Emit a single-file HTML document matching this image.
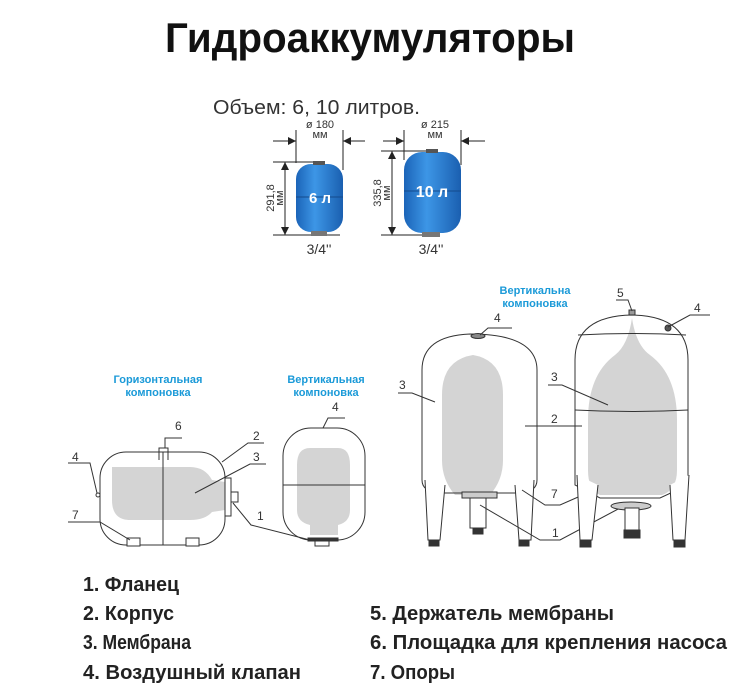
<!DOCTYPE html>
<html><head><meta charset="utf-8"><style>
html,body{margin:0;padding:0;background:#fff}
svg{display:block}
text{font-family:"Liberation Sans",sans-serif}
</style></head><body>
<svg width="756" height="696" viewBox="0 0 756 696" xmlns="http://www.w3.org/2000/svg">
<defs>
<linearGradient id="bl" x1="0" y1="0" x2="1" y2="0">
<stop offset="0" stop-color="#1b64b8"/><stop offset="0.4" stop-color="#3d96e6"/><stop offset="1" stop-color="#1a5fb0"/>
</linearGradient>
<marker id="ar" viewBox="0 0 10 10" refX="10" refY="5" markerWidth="8" markerHeight="8" orient="auto-start-reverse"><path d="M0,0L10,5L0,10z" fill="#222"/></marker>
</defs>
<text x="370" y="52" font-size="42" font-weight="bold" text-anchor="middle" textLength="410" lengthAdjust="spacingAndGlyphs" fill="#111">Гидроаккумуляторы</text>
<text x="213" y="114" font-size="20" fill="#333" textLength="207" lengthAdjust="spacingAndGlyphs">Объем: 6, 10 литров.</text>

<g stroke="#222" stroke-width="1" fill="none">
<line x1="273" y1="141" x2="296" y2="141" marker-end="url(#ar)"/>
<line x1="365" y1="141" x2="343" y2="141" marker-end="url(#ar)"/>
<line x1="296" y1="130" x2="296" y2="163"/><line x1="343" y1="130" x2="343" y2="170"/>
<line x1="273" y1="162" x2="318" y2="162"/><line x1="273" y1="235" x2="340" y2="235"/>
<line x1="285" y1="162" x2="285" y2="235" marker-start="url(#ar)" marker-end="url(#ar)"/>
<line x1="383" y1="141" x2="404" y2="141" marker-end="url(#ar)"/>
<line x1="485" y1="141" x2="461" y2="141" marker-end="url(#ar)"/>
<line x1="404" y1="130" x2="404" y2="160"/><line x1="461" y1="130" x2="461" y2="165"/>
<line x1="381" y1="151" x2="430" y2="151"/><line x1="381" y1="235" x2="440" y2="235"/>
<line x1="392" y1="151" x2="392" y2="235" marker-start="url(#ar)" marker-end="url(#ar)"/>
</g>
<rect x="296" y="164" width="47" height="68" rx="15" fill="url(#bl)"/>
<rect x="313" y="161" width="12" height="4" fill="#555"/>
<rect x="311" y="231" width="16" height="5" fill="#777"/>
<line x1="296" y1="197" x2="343" y2="197" stroke="#144a8c"/>
<text x="320" y="203" font-size="15" font-weight="bold" fill="#fff" text-anchor="middle">6 л</text>
<rect x="404" y="152" width="57" height="81" rx="18" fill="url(#bl)"/>
<rect x="426" y="149" width="12" height="4" fill="#555"/>
<rect x="422" y="232" width="18" height="5" fill="#777"/>
<line x1="404" y1="191" x2="461" y2="191" stroke="#144a8c"/>
<text x="432" y="197" font-size="16" font-weight="bold" fill="#fff" text-anchor="middle">10 л</text>
<g font-size="11" fill="#333" text-anchor="middle">
<text x="320" y="128">ø 180</text><text x="320" y="138">мм</text>
<text x="435" y="128">ø 215</text><text x="435" y="138">мм</text>
<text transform="translate(274,198) rotate(-90)">291,8</text><text transform="translate(283,198) rotate(-90)">мм</text>
<text transform="translate(381,193) rotate(-90)">335,8</text><text transform="translate(390,193) rotate(-90)">мм</text>
<text x="319" y="254" font-size="14">3/4''</text><text x="431" y="254" font-size="14">3/4''</text>
</g>

<g font-size="11" font-weight="bold" fill="#1b9ad8" text-anchor="middle">
<text x="158" y="383">Горизонтальная</text><text x="158" y="396">компоновка</text>
<text x="326" y="383">Вертикальная</text><text x="326" y="396">компоновка</text>
<text x="535" y="294">Вертикальна</text><text x="535" y="307">компоновка</text>
</g>

<g stroke="#333" stroke-width="1" fill="none">
<path d="M112,467 Q112,467 190,467 Q205,467 212,480 L225,482 L225,510 L212,512 Q205,520 190,520 L130,520 Q112,520 112,500 Z" fill="#d4d4d4" stroke="none"/>
<rect x="100" y="452" width="125" height="93" rx="26" fill="none"/>
<line x1="163" y1="452" x2="163" y2="545"/>
<path d="M159,460 V448 H168 V460"/>
<rect x="225" y="478" width="6" height="38" fill="#fff"/>
<rect x="231" y="492" width="7" height="10" fill="#fff"/>
<rect x="127" y="538" width="13" height="8" fill="#fff"/><rect x="186" y="538" width="13" height="8" fill="#fff"/>
<circle cx="98" cy="495" r="2"/>
<path d="M165,448 V438 H182"/>
<path d="M222,462 L248,443 H264"/>
<path d="M195,493 L250,464 H266"/>
<path d="M233,503 L251,525 L310,540"/>
<path d="M68,463 H90 L97,493"/>
<path d="M68,522 H100 L130,540"/>
</g>
<g font-size="12" fill="#333">
<text x="175" y="430">6</text><text x="253" y="440">2</text><text x="253" y="461">3</text>
<text x="257" y="520">1</text><text x="72" y="461">4</text><text x="72" y="519">7</text>
<text x="332" y="411">4</text>
</g>

<g stroke="#333" stroke-width="1" fill="none">
<path d="M310,448 H338 Q350,448 350,465 V510 Q350,522 338,525 V535 H310 V525 Q297,522 297,510 V465 Q297,448 310,448Z" fill="#d4d4d4" stroke="none"/>
<rect x="283" y="428" width="82" height="112" rx="28"/>
<line x1="283" y1="485" x2="365" y2="485"/>
<rect x="308" y="538" width="30" height="3" fill="#333"/>
<rect x="315" y="541" width="14" height="5" fill="#fff"/>
<path d="M323,428 L328,418 H345"/>
</g>

<g stroke="#333" stroke-width="1" fill="none">
<path d="M473,336 V355 Q503,360 503,395 V460 Q503,480 490,495 H455 Q442,480 442,460 V395 Q442,360 473,355" fill="#d4d4d4" stroke="none"/>
<path d="M422,480 V370 Q422,336 470,334 Q537,334 537,370 V480 Q537,492 520,493 H440 Q422,492 422,480Z"/>
<path d="M425,480 L428,540 H440 L445,485" fill="#fff"/>
<path d="M515,485 L519,540 H531 L534,480" fill="#fff"/>
<rect x="429" y="540" width="10" height="6" fill="#333"/><rect x="519" y="540" width="10" height="6" fill="#333"/>
<rect x="462" y="492" width="35" height="6" fill="#ccc"/>
<rect x="470" y="498" width="16" height="30" fill="#fff"/>
<rect x="473" y="528" width="10" height="6" fill="#333"/>
<ellipse cx="478" cy="336" rx="7" ry="2.5" fill="#888"/>
<path d="M480,335 L488,328 H512"/>
<path d="M398,393 H412 L435,402"/>
<path d="M525,426 H582"/>
<path d="M522,490 L545,505 H560 L585,494"/>
<path d="M480,505 L540,540 H560 L620,508"/>
</g>
<g stroke="#333" stroke-width="1" fill="none">
<path d="M632,318 Q636,345 650,355 Q677,375 677,420 V470 Q677,490 662,495 H600 Q588,490 588,470 V420 Q588,375 615,355 Q628,345 632,318Z" fill="#d4d4d4" stroke="none"/>
<path d="M575,485 V360 Q575,316 632,315 Q688,316 688,360 V485 L660,498 H600 Z"/>
<path d="M578,335 Q632,332 686,335"/>
<path d="M575,410 Q632,413 688,410"/>
<path d="M577,475 L580,540 H592 L598,485" fill="#fff"/>
<path d="M670,485 L673,540 H685 L689,475" fill="#fff"/>
<rect x="580" y="540" width="11" height="7" fill="#333"/><rect x="674" y="540" width="11" height="7" fill="#333"/>
<ellipse cx="631" cy="506" rx="20" ry="4" fill="#ccc"/>
<rect x="625" y="508" width="14" height="22" fill="#fff"/>
<rect x="624" y="530" width="16" height="8" fill="#333"/>
<rect x="629" y="310" width="6" height="5" fill="#999"/>
<circle cx="668" cy="328" r="3" fill="#555"/>
<path d="M616,300 H628 L632,311"/>
<path d="M668,327 L690,315 H710"/>
</g>
<g font-size="12" fill="#333">
<text x="494" y="322">4</text><text x="399" y="389">3</text>
<text x="551" y="498">7</text><text x="552" y="537">1</text><text x="617" y="297">5</text>
<text x="694" y="312">4</text><text x="551" y="381">3</text><text x="551" y="423">2</text>
</g>
<path d="M548,385 H562 L608,405" stroke="#333" fill="none"/>

<g font-size="20" font-weight="bold" fill="#222">
<text x="83" y="591" textLength="96" lengthAdjust="spacingAndGlyphs">1. Фланец</text>
<text x="83" y="620" textLength="91" lengthAdjust="spacingAndGlyphs">2. Корпус</text>
<text x="83" y="649" textLength="108" lengthAdjust="spacingAndGlyphs">3. Мембрана</text>
<text x="83" y="679" textLength="218" lengthAdjust="spacingAndGlyphs">4. Воздушный клапан</text>
<text x="370" y="620" textLength="244" lengthAdjust="spacingAndGlyphs">5. Держатель мембраны</text>
<text x="370" y="649" textLength="357" lengthAdjust="spacingAndGlyphs">6. Площадка для крепления насоса</text>
<text x="370" y="679" textLength="85" lengthAdjust="spacingAndGlyphs">7. Опоры</text>
</g>
</svg>
</body></html>
